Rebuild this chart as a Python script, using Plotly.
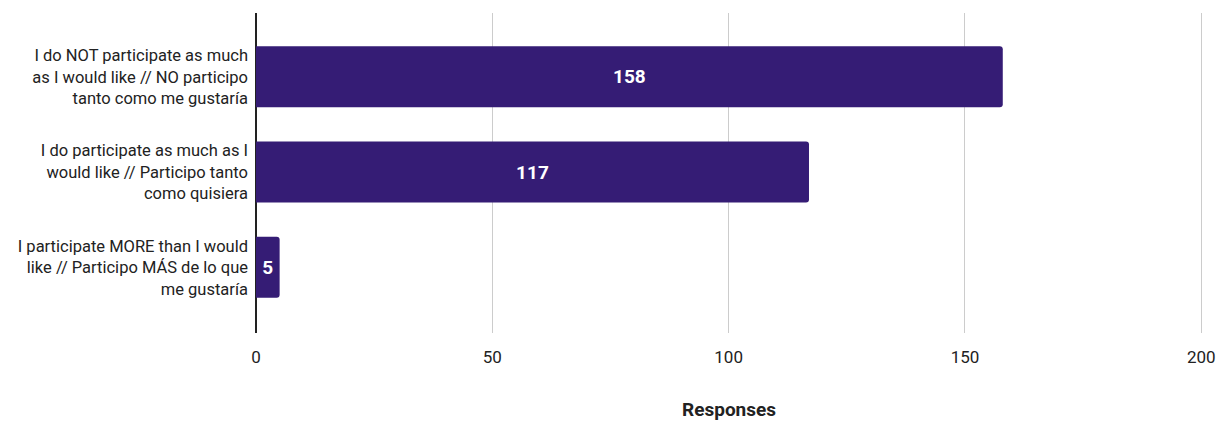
import plotly.graph_objects as go

categories = [
    "I do NOT participate as much<br>as I would like // NO participo<br>tanto como me gustaría",
    "I do participate as much as I<br>would like // Participo tanto<br>como quisiera",
    "I participate MORE than I would<br>like // Participo MÁS de lo que<br>me gustaría",
]
responses = [158, 117, 5]
x_ticks = [0, 50, 100, 150, 200]

BAR_COLOR = "#351c75"
FONT = "Roboto"

fig = go.Figure(
    go.Bar(
        x=responses,
        y=list(range(len(categories))),
        orientation="h",
        width=0.64,
        marker=dict(color=BAR_COLOR, cornerradius=3, line=dict(width=0)),
        text=[str(v) for v in responses],
        textposition="inside",
        insidetextanchor="middle",
        constraintext="none",
        textfont=dict(family=FONT, size=19, color="white", weight="bold"),
        hoverinfo="skip",
    )
)

fig.update_layout(
    width=1219,
    height=421,
    margin=dict(l=256, r=13, t=13, b=88),
    plot_bgcolor="white",
    paper_bgcolor="white",
    font=dict(family=FONT, color="#222222"),
    showlegend=False,
    xaxis=dict(
        # a little past 200 so the last gridline is not clipped at the edge
        range=[0, 201],
        tickvals=x_ticks,
        ticktext=[str(t) for t in x_ticks],
        showgrid=True,
        gridcolor="#cccccc",
        gridwidth=1,
        zeroline=True,
        zerolinecolor="#222222",
        zerolinewidth=1.5,
        showline=False,
        ticks="",
        ticklabelstandoff=12,
        tickfont=dict(family=FONT, size=17, color="#222222"),
        automargin=False,
        fixedrange=True,
    ),
    yaxis=dict(
        range=[2.69, -0.67],
        tickvals=list(range(len(categories))),
        ticktext=categories,
        showgrid=False,
        zeroline=False,
        showline=False,
        ticks="",
        ticklabelstandoff=7,
        tickfont=dict(family=FONT, size=16.5, color="#222222"),
        automargin=False,
        fixedrange=True,
    ),
    annotations=[
        dict(
            text="<b>Responses</b>",
            x=100,
            xref="x",
            y=-0.24,
            yref="paper",
            xanchor="center",
            yanchor="middle",
            showarrow=False,
            font=dict(family=FONT, size=19, color="#222222"),
        )
    ],
)

fig.write_html("out.html")
